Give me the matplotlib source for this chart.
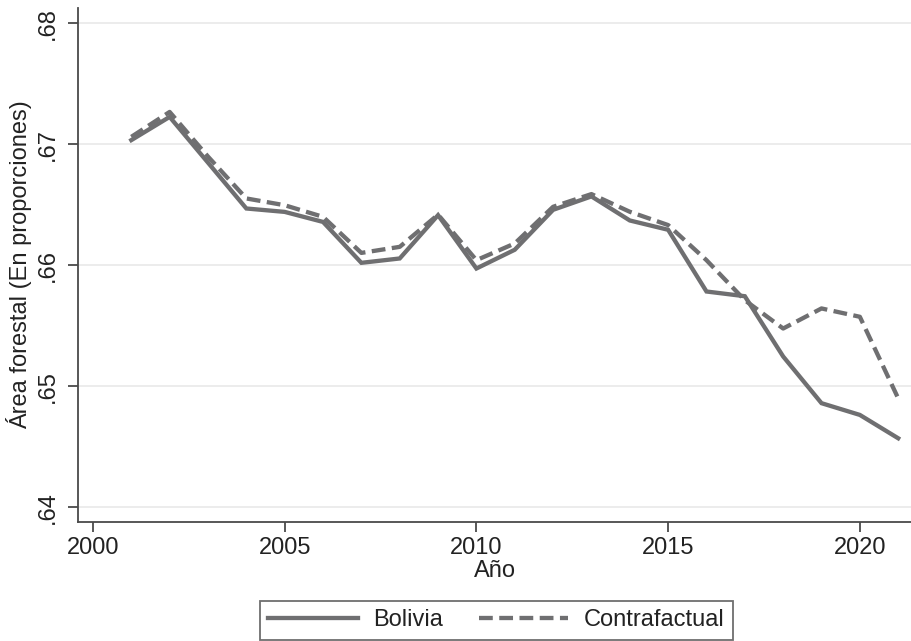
import matplotlib
matplotlib.use("Agg")
import matplotlib.pyplot as plt
from matplotlib.ticker import FuncFormatter

plt.rcParams['font.family'] = ['Liberation Sans', 'DejaVu Sans']

# Serie observada y contrafactual (proporción de área forestal)
anios = list(range(2001, 2022))
bolivia = [0.67036, 0.67228, 0.66850, 0.66471, 0.66443, 0.66360, 0.66022,
           0.66058, 0.66416, 0.65975, 0.66130, 0.66460, 0.66571, 0.66372,
           0.66295, 0.65785, 0.65746, 0.65248, 0.64862, 0.64765, 0.64572]
contrafactual = [0.67063, 0.67269, 0.66900, 0.66554, 0.66498, 0.66402, 0.66104,
                 0.66154, 0.66420, 0.66044, 0.66182, 0.66485, 0.66590, 0.66444,
                 0.66334, 0.66044, 0.65713, 0.65479, 0.65645, 0.65576, 0.64902]

yticks = [0.64, 0.65, 0.66, 0.67, 0.68]
xticks = [2000, 2005, 2010, 2015, 2020]

gris = '#6f6f71'
eje = '#4a4a4a'
texto = '#222222'

fig = plt.figure(figsize=(9.12, 6.41), dpi=100)
ax = fig.add_axes([78 / 912, 1 - 522 / 641, 1 - 78 / 912, (522 - 8) / 641])

ax.plot(anios, bolivia, color=gris, lw=3.1, solid_joinstyle='miter',
        label='Bolivia')
ax.plot(anios, contrafactual, color=gris, lw=3.1, dashes=(3.2, 1.5),
        dash_capstyle='butt', label='Contrafactual')

ax.set_xlim(1999.61, 2021.36)
ax.set_ylim(0.6388, 0.68128)
ax.set_xticks(xticks)
ax.set_yticks(yticks)
ax.yaxis.set_major_formatter(FuncFormatter(lambda v, p: ('%.2f' % v).lstrip('0')))
ax.grid(axis='y', color='#eaeaea', lw=1.3)
ax.set_axisbelow(True)

for s in ['top', 'right']:
    ax.spines[s].set_visible(False)
for s in ['left', 'bottom']:
    ax.spines[s].set_color(eje)
    ax.spines[s].set_linewidth(1.3)

ax.tick_params(axis='both', colors=eje, width=1.3, length=7.5,
               labelsize=17, labelcolor=texto)
ax.tick_params(axis='x', pad=3)
ax.tick_params(axis='y', pad=6)
for lab in ax.get_yticklabels():
    lab.set_rotation(90)
    lab.set_va('center')

ax.set_ylabel('Área forestal (En proporciones)', fontsize=17, color=texto,
              labelpad=4)
ax.set_xlabel('Año', fontsize=17, color=texto, labelpad=1)

leg = fig.legend(loc='upper center', bbox_to_anchor=(496.5 / 912, 1 - 601 / 641),
                 ncol=2, fontsize=17, frameon=True, fancybox=False,
                 handlelength=3.8, handletextpad=0.65, columnspacing=1.5,
                 borderpad=0.35, borderaxespad=0)
leg.get_frame().set_edgecolor(eje)
leg.get_frame().set_linewidth(1.3)
for t in leg.get_texts():
    t.set_color(texto)

fig.savefig('out.png', dpi=100)
